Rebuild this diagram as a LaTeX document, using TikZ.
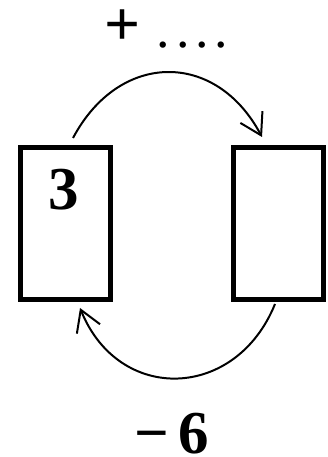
\documentclass[tikz,border=0pt]{standalone}
\usepackage{fontspec}
\setmainfont{Liberation Serif}
\usetikzlibrary{arrows.meta}

\begin{document}
\begin{tikzpicture}[
    numbox/.style={rectangle, draw, line width=0.15cm, minimum width=2.7cm, minimum height=4.56cm, inner sep=0pt},
    arrow/.style={-{Straight Barb[length=0.62cm, width=0.75cm]}, line width=1.7pt},
    num/.style={font=\fontsize{52}{56}\selectfont\bfseries}
]
\useasboundingbox (0,0) rectangle (9.81,13.71);

% Boxes
\node[numbox] (left) at (1.965,7.005) {};
\node[numbox] (right) at (8.34,7.005) {};
\node[num] (three) at (1.92,8.02) {3};

% Labels
\node[font=\fontsize{54}{58}\selectfont\bfseries, inner sep=0pt] (plus) at (3.675,12.87) {+};
\node[font=\fontsize{46}{50}\selectfont, inner sep=0pt, anchor=base] (dots) at (5.78,12.285) {.\kern5pt.\kern5pt.\kern5pt.};
\node[num, inner sep=0pt] (minus) at (5.145,0.7) {−\kern8pt6};

% Arcs
\draw[arrow] ([xshift=0.225cm, yshift=0.21cm]left.north) to[out=62, in=118, looseness=1.33] ([xshift=-0.48cm, yshift=0.24cm]right.north);
\draw[arrow] ([xshift=-0.09cm, yshift=-0.06cm]right.south) to[out=-112, in=-68, looseness=1.36] ([xshift=0.435cm, yshift=-0.18cm]left.south);

\end{tikzpicture}
\end{document}
